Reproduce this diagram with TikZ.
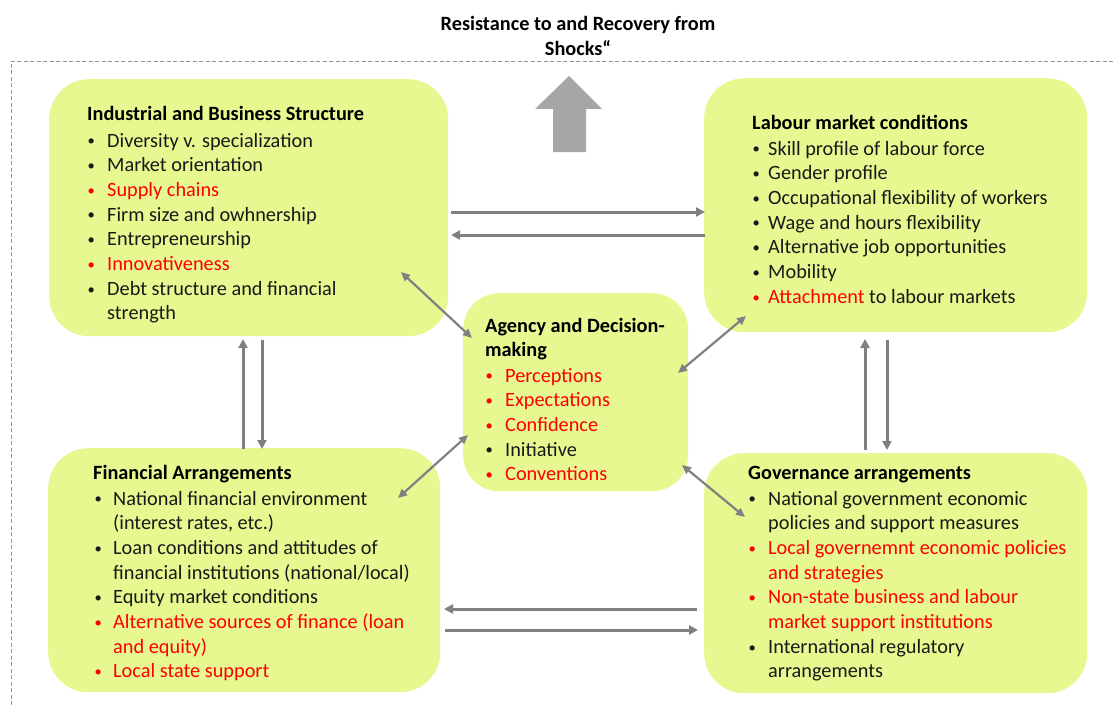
\documentclass[tikz,border=0pt]{standalone}
\usepackage{fontspec}
\setmainfont{Carlito}
\usetikzlibrary{arrows.meta}
\definecolor{boxfill}{RGB}{230,248,143}
\definecolor{arrgray}{RGB}{128,128,128}
\definecolor{bigarr}{RGB}{166,166,166}
\definecolor{framegray}{RGB}{150,150,150}
\definecolor{txt}{RGB}{25,25,25}
\definecolor{myred}{RGB}{255,0,0}
\newlength\bulw
\newcommand{\B}[1][txt]{\makebox[\bulw][l]{\hspace{1.5pt}\raisebox{1.2pt}{\scalebox{0.72}{\textcolor{#1}{•}}}}}
\newcommand{\R}[1]{\textcolor{myred}{#1}}
\tikzset{
  box/.style={fill=boxfill, draw=none, rounded corners=40pt, anchor=north west, inner sep=0pt},
  lst/.style={anchor=base west, inner sep=0pt, text=txt, font=\fontsize{20.3}{24.7}\selectfont},
  hdg/.style={anchor=base west, inner sep=0pt, text=black, font=\fontsize{20.3}{24.7}\selectfont\bfseries},
  conn/.style={draw=arrgray, line width=3pt, -{Triangle[length=9pt,width=9pt]}},
  dconn/.style={draw=arrgray, line width=2.2pt, {Triangle[length=9pt,width=8pt]}-{Triangle[length=9pt,width=8pt]}},
}
\begin{document}
\begin{tikzpicture}[x=1pt,y=-1pt]
\useasboundingbox (0,0) rectangle (1113,706);
% frame
\draw[framegray, line width=0.9pt, dash pattern=on 4pt off 2.5pt] (1113,61) -- (11,61) -- (11,706);
% title
\node[anchor=base, inner sep=0pt, font=\fontsize{20.3}{24.7}\selectfont\bfseries] (title) at (578,31)
  {\begin{tabular}[t]{@{}c@{}}Resistance to and Recovery from\\ Shocks“\end{tabular}};
% big arrow
\fill[bigarr] (553,152) -- (553,109) -- (535,109) -- (569,76) -- (602,109) -- (586,109) -- (586,152) -- cycle;
% boxes
\node[box, minimum width=399pt, minimum height=257pt] (ibs) at (49,79) {};
\node[box, minimum width=383pt, minimum height=254pt] (lab) at (704,78) {};
\node[box, minimum width=225pt, minimum height=198pt, rounded corners=36pt] (agn) at (463,293) {};
\node[box, minimum width=392pt, minimum height=244pt] (fin) at (48,448) {};
\node[box, minimum width=383pt, minimum height=240pt] (gov) at (704,453) {};
% IBS text
\node[hdg] (ibsh) at (87,121) {Industrial and Business Structure};
\node[lst] (ibsl) at (86,147) {\setlength\bulw{21pt}\begin{tabular}[t]{@{}l@{}l@{}}
\B & Diversity v. specialization\\
\B & Market orientation\\
\B[myred] & \R{Supply chains}\\
\B & Firm size and owhnership\\
\B & Entrepreneurship\\
\B[myred] & \R{Innovativeness}\\
\B & Debt structure and financial\\
 & strength
\end{tabular}};
% Labour text
\node[hdg] (labh) at (752,129) {Labour market conditions};
\node[lst] (labl) at (751,155) {\setlength\bulw{17pt}\begin{tabular}[t]{@{}l@{}l@{}}
\B & Skill profile of labour force\\
\B & Gender profile\\
\B & Occupational flexibility of workers\\
\B & Wage and hours flexibility\\
\B & Alternative job opportunities\\
\B & Mobility\\
\B[myred] & \R{Attachment} to labour markets
\end{tabular}};
% Agency text
\node[hdg] (agnh) at (485,332) {\begin{tabular}[t]{@{}l@{}}Agency and Decision-\\ making\end{tabular}};
\node[lst] (agnl) at (484,382) {\setlength\bulw{21pt}\begin{tabular}[t]{@{}l@{}l@{}}
\B[myred] & \R{Perceptions}\\
\B[myred] & \R{Expectations}\\
\B[myred] & \R{Confidence}\\
\B & Initiative\\
\B[myred] & \R{Conventions}
\end{tabular}};
% Financial text
\node[hdg] (finh) at (93,479) {Financial Arrangements};
\node[lst] (finl) at (93,505) {\setlength\bulw{20pt}\begin{tabular}[t]{@{}l@{}l@{}}
\B & National financial environment\\
 & (interest rates, etc.)\\
\B & Loan conditions and attitudes of\\
 & financial institutions (national/local)\\
\B & Equity market conditions\\
\B[myred] & \R{Alternative sources of finance (loan}\\
 & \R{and equity)}\\
\B[myred] & \R{Local state support}
\end{tabular}};
% Governance text
\node[hdg] (govh) at (748,479) {Governance arrangements};
\node[lst] (govl) at (747,505) {\setlength\bulw{21pt}\begin{tabular}[t]{@{}l@{}l@{}}
\B & National government economic\\
 & policies and support measures\\
\B[myred] & \R{Local governemnt economic policies}\\
 & \R{and strategies}\\
\B[myred] & \R{Non-state business and labour}\\
 & \R{market support institutions}\\
\B & International regulatory\\
 & arrangements
\end{tabular}};
% connector end points
\coordinate (t1a) at (451,212); \coordinate (t1b) at (705,212);
\coordinate (t2a) at (705,235); \coordinate (t2b) at (451,235);
\coordinate (b1a) at (697,609); \coordinate (b1b) at (444,609);
\coordinate (b2a) at (445,630); \coordinate (b2b) at (698,630);
\coordinate (l1a) at (243,449); \coordinate (l1b) at (243,339);
\coordinate (l2a) at (262,340); \coordinate (l2b) at (262,449);
\coordinate (r1a) at (865,450); \coordinate (r1b) at (865,339);
\coordinate (r2a) at (887,340); \coordinate (r2b) at (887,450);
\coordinate (d1a) at (401,272); \coordinate (d1b) at (472,338);
\coordinate (d2a) at (746,316); \coordinate (d2b) at (678,373);
\coordinate (d3a) at (468,435); \coordinate (d3b) at (398,498);
\coordinate (d4a) at (682,465); \coordinate (d4b) at (745,517);
% connectors
\draw[conn] (t1a) -- (t1b);
\draw[conn] (t2a) -- (t2b);
\draw[conn] (b1a) -- (b1b);
\draw[conn] (b2a) -- (b2b);
\draw[conn] (l1a) -- (l1b);
\draw[conn] (l2a) -- (l2b);
\draw[conn] (r1a) -- (r1b);
\draw[conn] (r2a) -- (r2b);
\draw[dconn] (d1a) -- (d1b);
\draw[dconn] (d2a) -- (d2b);
\draw[dconn] (d3a) -- (d3b);
\draw[dconn] (d4a) -- (d4b);
\end{tikzpicture}
\end{document}
